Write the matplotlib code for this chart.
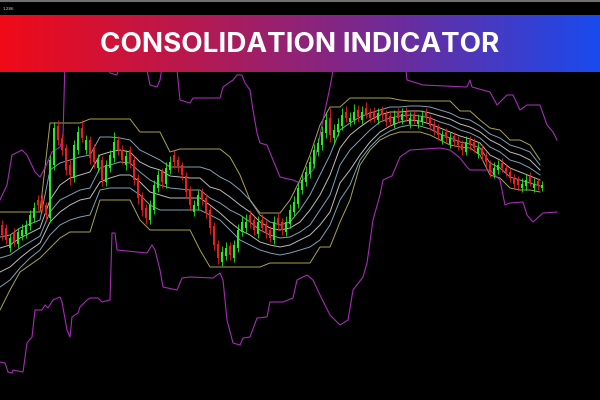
import numpy as np
import matplotlib
matplotlib.use('Agg')
import matplotlib.pyplot as plt
from matplotlib.colors import LinearSegmentedColormap

# candles (price in points), one candle every 4 time units
opens = [175, 172, 152, 168, 156, 164, 166, 174, 182, 200,
         202, 195, 182, 235, 274, 262, 252, 235, 222, 250,
         272, 250, 260, 250, 232, 240, 218, 232, 242, 260,
         250, 235, 250, 240, 222, 205, 192, 180, 190, 212,
         228, 216, 230, 245, 240, 235, 224, 210, 188, 194,
         208, 202, 190, 174, 156, 138, 144, 154, 142, 152,
         168, 172, 185, 180, 166, 180, 176, 170, 160, 182,
         178, 168, 176, 188, 196, 210, 218, 226, 236, 248,
         255, 267, 282, 262, 268, 274, 288, 278, 280, 290,
         280, 292, 288, 288, 280, 290, 286, 284, 276, 288,
         280, 288, 276, 286, 276, 279, 288, 282, 276, 272,
         260, 268, 256, 264, 260, 256, 248, 260, 258, 246,
         252, 245, 236, 225, 230, 237, 232, 228, 222, 220,
         212, 214, 224, 212, 219, 212]
closes = [165, 160, 162, 158, 168, 170, 175, 185, 192, 195,
          192, 185, 240, 272, 260, 250, 230, 225, 255, 268,
          262, 260, 242, 238, 240, 220, 235, 245, 258, 250,
          240, 244, 238, 220, 202, 190, 182, 195, 215, 225,
          218, 232, 238, 238, 234, 225, 208, 195, 195, 205,
          200, 188, 172, 155, 142, 148, 152, 145, 155, 170,
          178, 178, 178, 170, 178, 172, 168, 162, 178, 175,
          170, 178, 190, 198, 212, 220, 228, 238, 250, 257,
          268, 280, 265, 270, 276, 285, 282, 282, 288, 283,
          288, 286, 282, 282, 287, 285, 278, 278, 283, 282,
          286, 283, 282, 280, 280, 284, 282, 274, 270, 265,
          265, 262, 262, 258, 255, 250, 258, 255, 252, 252,
          245, 238, 228, 232, 235, 232, 228, 222, 216, 215,
          216, 220, 218, 216, 214, 215]
highs = [180, 176, 166, 172, 172, 176, 180, 190, 198, 205,
         206, 198, 245, 278, 280, 266, 256, 240, 260, 274,
         280, 265, 264, 256, 246, 244, 240, 250, 268, 264,
         255, 250, 254, 244, 226, 208, 196, 200, 220, 230,
         232, 238, 244, 250, 244, 238, 228, 214, 200, 210,
         212, 206, 194, 178, 160, 154, 158, 158, 160, 176,
         184, 186, 190, 184, 184, 186, 180, 174, 184, 187,
         182, 184, 196, 204, 218, 226, 234, 244, 256, 262,
         274, 288, 292, 276, 282, 292, 294, 288, 296, 295,
         294, 298, 292, 293, 292, 294, 290, 288, 290, 292,
         292, 293, 288, 290, 286, 290, 292, 285, 280, 276,
         270, 272, 268, 268, 264, 260, 264, 264, 262, 258,
         256, 248, 240, 238, 240, 242, 236, 232, 226, 224,
         222, 226, 228, 222, 222, 219]
lows = [160, 156, 148, 154, 152, 160, 162, 170, 178, 190,
        188, 180, 178, 230, 255, 245, 225, 215, 218, 246,
        258, 246, 236, 232, 228, 214, 214, 228, 238, 245,
        236, 230, 232, 215, 196, 184, 176, 176, 186, 208,
        212, 212, 226, 232, 228, 220, 202, 190, 184, 190,
        195, 182, 166, 150, 136, 134, 140, 140, 138, 148,
        164, 168, 172, 165, 162, 168, 162, 158, 156, 170,
        165, 164, 172, 184, 192, 206, 214, 222, 232, 244,
        250, 262, 258, 256, 264, 270, 278, 274, 276, 278,
        276, 282, 278, 278, 276, 280, 274, 274, 272, 278,
        276, 279, 272, 276, 272, 275, 278, 270, 265, 260,
        256, 258, 252, 254, 250, 245, 245, 250, 248, 242,
        240, 233, 223, 222, 226, 228, 224, 218, 212, 210,
        208, 210, 214, 208, 210, 209]

# channel lines, sampled every 10 time units
line_time = list(range(0, 550, 10))
upper_channel = [188, 188, 188, 188, 188, 277, 277, 277, 277, 281,
                 281, 281, 281, 281, 268, 268, 268, 248, 251, 251,
                 251, 251, 251, 243, 225, 200, 187, 187, 187, 200,
                 220, 245, 275, 293, 293, 302, 302, 302, 302, 302,
                 300, 299, 299, 299, 299, 299, 289, 289, 280, 272,
                 270, 260, 260, 255, 240]
band_1 = [163, 165, 172, 176, 180, 230, 237, 240, 243, 245,
          263, 263, 262, 260, 250, 245, 240, 233, 233, 233,
          233, 230, 223, 218, 210, 200, 185, 178, 175, 178,
          190, 205, 225, 245, 270, 277, 283, 287, 290, 293,
          293, 294, 294, 293, 290, 287, 282, 280, 274, 266,
          262, 255, 252, 248, 235]
band_2 = [152, 155, 162, 167, 172, 200, 215, 222, 225, 228,
          245, 248, 250, 248, 238, 233, 230, 224, 223, 222,
          222, 213, 210, 203, 195, 188, 178, 172, 170, 172,
          178, 190, 205, 225, 252, 265, 273, 280, 285, 288,
          288, 289, 289, 287, 284, 281, 276, 273, 268, 260,
          255, 248, 245, 240, 230]
band_3 = [142, 145, 152, 158, 164, 188, 200, 205, 210, 212,
          232, 235, 238, 237, 228, 220, 215, 212, 211, 210,
          210, 202, 197, 190, 185, 178, 170, 165, 162, 163,
          168, 175, 190, 205, 235, 250, 260, 270, 278, 282,
          284, 285, 284, 282, 278, 275, 270, 267, 262, 253,
          248, 240, 237, 232, 225]
band_4 = [128, 133, 142, 150, 157, 178, 188, 195, 200, 202,
          218, 222, 225, 225, 218, 208, 205, 202, 202, 202,
          202, 195, 187, 178, 170, 165, 158, 155, 153, 155,
          160, 165, 175, 188, 217, 230, 245, 258, 268, 274,
          278, 280, 279, 276, 272, 268, 264, 261, 257, 245,
          240, 232, 228, 224, 220]
band_5 = [113, 120, 132, 142, 150, 165, 175, 180, 183, 185,
          210, 212, 212, 212, 205, 195, 190, 190, 190, 190,
          190, 185, 180, 170, 160, 155, 150, 147, 145, 147,
          150, 153, 160, 175, 200, 215, 240, 253, 263, 269,
          273, 275, 274, 271, 266, 262, 258, 256, 252, 237,
          232, 223, 220, 217, 214]
lower_channel = [90, 110, 128, 135, 142, 152, 162, 168, 168, 168,
                 200, 200, 200, 200, 180, 170, 170, 170, 170, 170,
                 150, 133, 133, 133, 133, 133, 133, 137, 137, 137,
                 137, 137, 153, 153, 178, 200, 235, 250, 260, 265,
                 268, 268, 268, 265, 260, 255, 253, 252, 245, 225,
                 222, 212, 210, 210, 208]

# outer (purple) envelopes
env_up_time = [0, 7, 12, 22, 27, 35, 40, 45, 52, 60, 63, 65, 105, 110, 117, 122,
               145, 150, 157, 160, 163, 176, 180, 190, 193, 220, 223, 233, 237,
               242, 245, 250, 253, 257, 260, 267, 273, 280, 293, 300, 303, 313,
               323, 330, 335, 405, 407, 423, 467, 470, 472, 490, 497, 507, 513,
               520, 527, 540, 547, 553, 557]
env_up = [200, 215, 245, 250, 245, 228, 223, 232, 248, 253, 263, 340, 340, 327,
          325, 340, 340, 315, 313, 320, 340, 340, 300, 297, 302, 302, 313, 320,
          325, 325, 317, 310, 290, 267, 257, 255, 240, 223, 220, 217, 220, 230,
          280, 313, 340, 340, 320, 315, 313, 320, 313, 308, 295, 305, 305, 290,
          295, 295, 275, 268, 260]
env_lo_time = [0, 5, 8, 12, 13, 23, 27, 32, 35, 42, 45, 48, 53, 60, 62, 67, 70,
               72, 78, 80, 87, 90, 98, 102, 110, 112, 115, 117, 147, 152, 155,
               160, 163, 177, 182, 190, 213, 220, 223, 227, 233, 240, 243, 250,
               257, 267, 270, 283, 293, 297, 307, 313, 320, 330, 340, 348, 353,
               363, 367, 373, 380, 383, 392, 400, 410, 440, 450, 460, 467, 470,
               490, 497, 500, 505, 510, 523, 527, 533, 543, 557]
env_lo = [38, 37, 28, 27, 30, 28, 57, 63, 90, 90, 95, 92, 100, 103, 98, 70, 63,
          83, 87, 93, 100, 102, 102, 98, 100, 167, 167, 150, 147, 155, 150,
          130, 113, 110, 122, 123, 122, 127, 120, 80, 57, 55, 62, 63, 82, 83,
          98, 98, 102, 120, 125, 120, 105, 85, 75, 80, 110, 123, 137, 180, 205,
          220, 224, 243, 250, 252, 250, 242, 233, 230, 230, 223, 220, 195, 197,
          198, 185, 178, 187, 188]

title = 'CONSOLIDATION INDICATOR'

fig = plt.figure(figsize=(6, 4), dpi=100, facecolor='black')
ax = fig.add_axes([0, 0, 1, 1])
ax.set_facecolor('black')

candle_time = np.arange(len(closes)) * 4 + 2
o = np.array(opens)
c = np.array(closes)
colors = np.where(c >= o, '#22ee22', '#ee1c1c')
ax.vlines(candle_time, lows, highs, colors=colors, lw=0.6, zorder=3)
ax.bar(candle_time, np.maximum(np.abs(c - o), 1.5), bottom=np.minimum(o, c),
       width=2.4, color=colors, linewidth=0, zorder=3)

yellow = '#a9a74c'
ax.plot(line_time, upper_channel, color=yellow, lw=0.7, zorder=2)
ax.plot(line_time, lower_channel, color=yellow, lw=0.7, zorder=2)
band_colors = ['#7fa3b6', '#bdbdbd', '#7fa3b6', '#bdbdbd', '#7fa3b6']
for band, col in zip([band_1, band_2, band_3, band_4, band_5], band_colors):
    ax.plot(line_time, band, color=col, lw=0.7, zorder=2)

ax.plot(env_up_time, env_up, color='#a52cb5', lw=0.8, zorder=2)
ax.plot(env_lo_time, env_lo, color='#a52cb5', lw=0.8, zorder=2)

ax.set_xlim(0, 600)
ax.set_ylim(0, 400)
ax.axis('off')

# title banner with red -> blue gradient
ban = fig.add_axes([0, 328 / 400, 1, 57 / 400])
cmap = LinearSegmentedColormap.from_list('ban', ['#f00a18', '#b41a52', '#6c2c9c', '#1a4aee'])
ban.imshow(np.linspace(0, 1, 256).reshape(1, -1), aspect='auto', cmap=cmap, extent=[0, 1, 0, 1])
ban.text(0.5, 0.48, title, color='white', fontsize=20, fontweight='bold',
         family=['Inter', 'DejaVu Sans'], ha='center', va='center')
ban.set_xlim(0, 1)
ban.set_ylim(0, 1)
ban.axis('off')

# top strip
fig.add_artist(plt.Line2D([0, 1], [0.997, 0.997], color='#707070', lw=1.5))
fig.text(0.004, 0.982, '1.286', color='#cccccc', fontsize=3, va='top')

fig.savefig('out.png', dpi=100, facecolor='black')
